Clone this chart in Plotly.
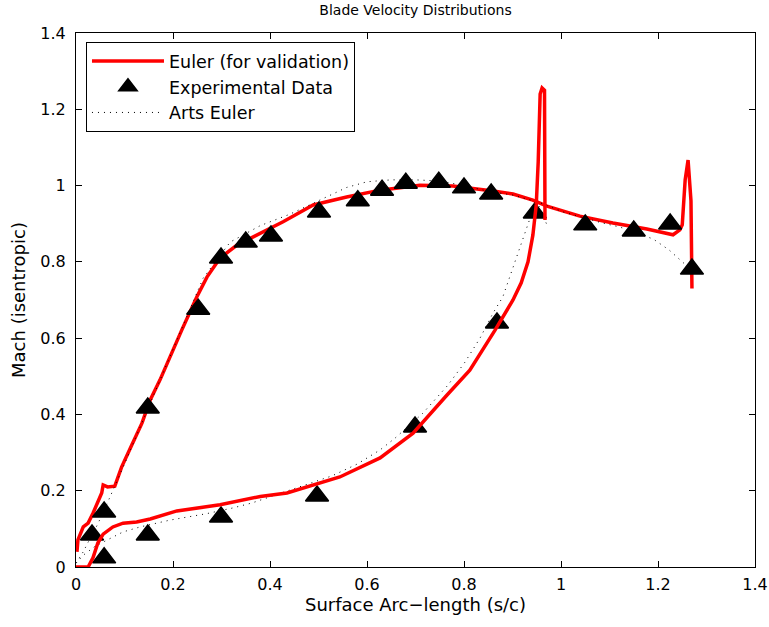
import plotly.graph_objects as go

# Euler solution, suction surface
euler_ss_x = [0.002, 0.004, 0.015, 0.025, 0.035, 0.053, 0.056, 0.065, 0.080, 0.094, 0.115, 0.136,
              0.153, 0.173, 0.218, 0.249, 0.270, 0.297, 0.332, 0.365, 0.400, 0.427, 0.489, 0.558,
              0.627, 0.709, 0.777, 0.833, 0.860, 0.901, 0.942, 0.971, 1.039, 1.107, 1.177, 1.231,
              1.245, 1.250, 1.256, 1.262, 1.268, 1.270]
euler_ss_y = [0.040, 0.071, 0.105, 0.115, 0.141, 0.194, 0.215, 0.210, 0.212, 0.262, 0.320, 0.377,
              0.438, 0.490, 0.621, 0.708, 0.760, 0.810, 0.844, 0.865, 0.889, 0.905, 0.949, 0.970,
              0.988, 1.001, 0.999, 0.991, 0.986, 0.978, 0.962, 0.946, 0.920, 0.902, 0.886, 0.871,
              0.884, 0.897, 1.015, 1.067, 0.960, 0.730]

# Euler solution, pressure surface
euler_ps_x = [0.000, 0.025, 0.035, 0.045, 0.056, 0.076, 0.097, 0.125, 0.153, 0.208, 0.297, 0.380,
              0.435, 0.503, 0.544, 0.627, 0.695, 0.765, 0.812, 0.864, 0.901, 0.918, 0.932, 0.942,
              0.949, 0.953, 0.957, 0.961, 0.966, 0.967]
euler_ps_y = [0.000, 0.000, 0.024, 0.063, 0.086, 0.105, 0.115, 0.118, 0.126, 0.147, 0.163, 0.185,
              0.194, 0.220, 0.236, 0.286, 0.351, 0.451, 0.516, 0.621, 0.700, 0.745, 0.800, 0.870,
              0.950, 1.062, 1.240, 1.256, 1.250, 0.910]

# Measured isentropic Mach number
exp_x = [0.033, 0.058, 0.148, 0.252, 0.299, 0.350, 0.402, 0.501, 0.581, 0.631, 0.680, 0.748,
         0.800, 0.856, 0.946, 1.050, 1.150, 1.225, 1.270,
         0.058, 0.148, 0.299, 0.497, 0.699, 0.868]
exp_y = [0.084, 0.144, 0.417, 0.676, 0.810, 0.852, 0.868, 0.931, 0.960, 0.988, 1.006, 1.009,
         0.994, 0.978, 0.928, 0.897, 0.881, 0.899, 0.781,
         0.024, 0.084, 0.131, 0.186, 0.367, 0.640]

# Arts Euler reference solution (suction side, then pressure side)
arts_ss_x = [0.000, 0.015, 0.025, 0.040, 0.055, 0.074, 0.100, 0.150, 0.200, 0.262, 0.318, 0.380,
             0.441, 0.490, 0.524, 0.558, 0.600, 0.650, 0.700, 0.750, 0.800, 0.850, 0.901, 0.957,
             1.004, 1.085, 1.122, 1.190, 1.223, 1.256, 1.272]
arts_ss_y = [0.010, 0.040, 0.065, 0.100, 0.140, 0.194, 0.270, 0.420, 0.570, 0.757, 0.852, 0.895,
             0.925, 0.955, 0.975, 0.995, 1.010, 1.015, 1.015, 1.012, 1.000, 0.985, 0.975, 0.955,
             0.931, 0.902, 0.891, 0.860, 0.831, 0.792, 0.775]
arts_ps_x = [0.000, 0.015, 0.040, 0.064, 0.097, 0.132, 0.194, 0.270, 0.324, 0.363, 0.456, 0.528,
             0.580, 0.627, 0.658, 0.715, 0.767, 0.802, 0.833, 0.860, 0.880, 0.899, 0.915, 0.935,
             0.955, 0.970]
arts_ps_y = [0.010, 0.031, 0.055, 0.070, 0.092, 0.105, 0.123, 0.140, 0.155, 0.168, 0.207, 0.239,
             0.270, 0.307, 0.338, 0.403, 0.477, 0.537, 0.600, 0.666, 0.708, 0.779, 0.840, 0.910,
             0.945, 0.900]

ticks = [0, 0.2, 0.4, 0.6, 0.8, 1, 1.2, 1.4]
tick_text = ["0", "0.2", "0.4", "0.6", "0.8", "1", "1.2", "1.4"]

FONT = "DejaVu Sans, Liberation Sans, sans-serif"
RED = "#ff0000"

fig = go.Figure()

fig.add_trace(go.Scatter(
    x=euler_ss_x, y=euler_ss_y, mode="lines", name="Euler (for validation)",
    line=dict(color=RED, width=3.5), legendgroup="euler",
))
fig.add_trace(go.Scatter(
    x=exp_x, y=exp_y, mode="markers", name="Experimental Data",
    marker=dict(symbol="triangle-up", size=20, color="black",
                line=dict(color="black", width=1.5)),
))
fig.add_trace(go.Scatter(
    x=arts_ss_x + [None] + arts_ps_x, y=arts_ss_y + [None] + arts_ps_y,
    mode="lines", name="Arts Euler", connectgaps=False,
    line=dict(color="black", width=1, dash="1px,5px"),
))
fig.add_trace(go.Scatter(
    x=euler_ps_x, y=euler_ps_y, mode="lines", name="Euler (for validation)",
    line=dict(color=RED, width=3.5), legendgroup="euler", showlegend=False,
))

axis_common = dict(
    range=[0, 1.4], tickvals=ticks, ticktext=tick_text,
    ticks="inside", ticklen=6, tickwidth=1, tickcolor="black",
    showline=True, linecolor="black", linewidth=1, mirror="allticks",
    showgrid=False, zeroline=False, automargin=False,
    tickfont=dict(family=FONT, size=16, color="black"),
)

fig.update_layout(
    width=769, height=627,
    margin=dict(l=76, r=14, t=33, b=60, autoexpand=False),
    paper_bgcolor="white", plot_bgcolor="white",
    font=dict(family=FONT, color="black"),
    title=dict(text="Blade Velocity Distributions", x=0.5, xref="paper",
               y=1 - 10 / 627, yref="container", yanchor="middle",
               font=dict(family=FONT, size=14, color="black")),
    xaxis=dict(axis_common, title=dict(text="Surface Arc\u2212length (s/c)",
                                       font=dict(family=FONT, size=18), standoff=4),
               ticklabelstandoff=3),
    yaxis=dict(axis_common, title=dict(text="Mach (isentropic)",
                                       font=dict(family=FONT, size=18), standoff=10),
               ticklabelstandoff=6),
    legend=dict(x=0.0147, y=0.983, xanchor="left", yanchor="top",
                bgcolor="white", bordercolor="black", borderwidth=1,
                font=dict(family=FONT, size=17.5, color="black"),
                itemwidth=72, tracegroupgap=0),
    showlegend=True,
)

fig.write_html("out.html")
